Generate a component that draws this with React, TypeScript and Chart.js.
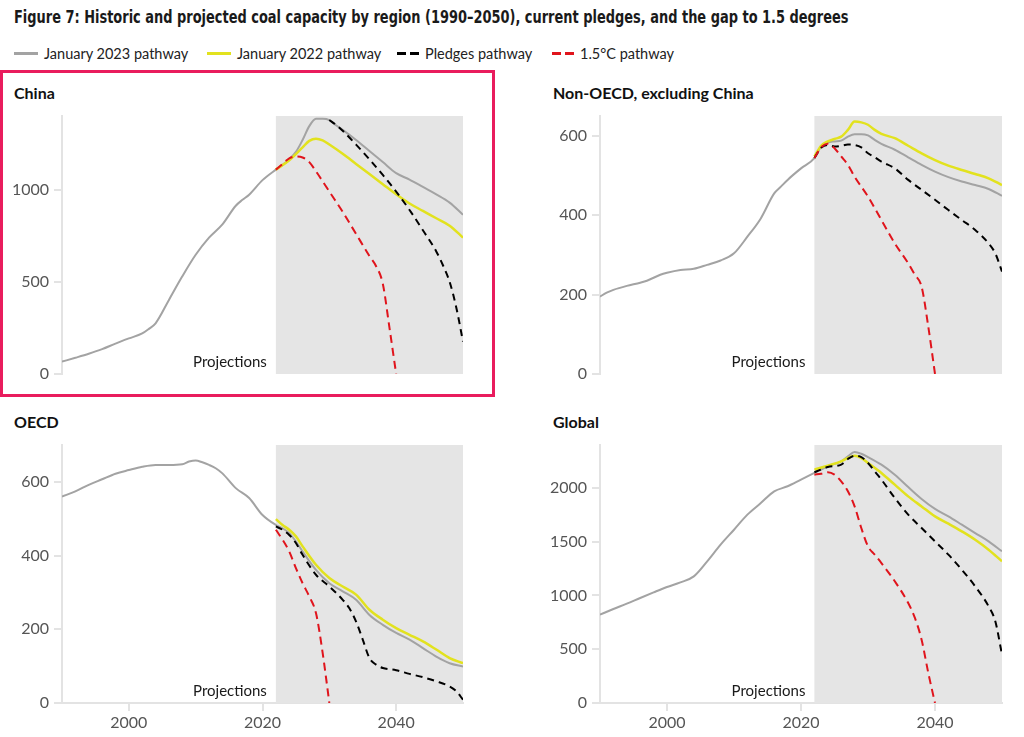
import React, { useEffect, useRef } from "react";
import { Chart, registerables } from "chart.js";

Chart.register(...registerables);

// ---------- text ----------
const TITLE =
  "Figure 7: Historic and projected coal capacity by region (1990–2050), current pledges, and the gap to 1.5 degrees";
const SERIES_NAMES = ["January 2023 pathway", "January 2022 pathway", "Pledges pathway", "1.5°C pathway"];
const PROJ_LABEL = "Projections";
const PROJ_START = 2022;
const X_MIN = 1990;
const X_MAX = 2050;
const X_TICKS = [2000, 2020, 2040];

// ---------- China ----------
const chinaY23 = [1990, 1992, 1994, 1996, 1998, 2000, 2002, 2003, 2004, 2006, 2008, 2010, 2012, 2014, 2016, 2017, 2018, 2020, 2022, 2023, 2024, 2025, 2026, 2027, 2028, 2029, 2030, 2031, 2032, 2034, 2036, 2038, 2040, 2042, 2044, 2046, 2048, 2050];
const chinaJan23 = [67, 88, 110, 135, 165, 193, 220, 245, 275, 402, 530, 647, 740, 812, 913, 945, 973, 1052, 1109, 1135, 1165, 1205, 1270, 1345, 1385, 1385, 1378, 1350, 1325, 1270, 1210, 1150, 1090, 1055, 1015, 975, 930, 864];
const chinaY22 = [2022, 2024, 2026, 2027, 2028, 2029, 2030, 2032, 2034, 2036, 2038, 2040, 2042, 2044, 2046, 2048, 2050];
const chinaJan22 = [1109, 1160, 1230, 1265, 1277, 1268, 1245, 1195, 1140, 1085, 1030, 975, 925, 885, 845, 805, 740];
const chinaYP = [2030, 2031, 2032, 2034, 2036, 2038, 2040, 2042, 2044, 2046, 2047, 2048, 2049, 2050];
const chinaPledges = [1378, 1352, 1320, 1245, 1165, 1080, 990, 890, 780, 665, 590, 500, 360, 176];
const chinaY15 = [2022, 2023, 2024, 2025, 2026, 2027, 2028, 2030, 2032, 2034, 2036, 2037, 2038, 2039, 2040];
const china15 = [1109, 1140, 1170, 1180, 1175, 1150, 1100, 990, 880, 760, 640, 585, 490, 250, 0];

// ---------- Non-OECD excluding China ----------
const nonY23 = [1990, 1991, 1992, 1994, 1996, 1997, 1999, 2000, 2002, 2004, 2006, 2008, 2010, 2012, 2014, 2016, 2017, 2018, 2020, 2022, 2023, 2024, 2025, 2026, 2027, 2028, 2029, 2030, 2031, 2032, 2034, 2036, 2038, 2040, 2042, 2044, 2046, 2048, 2050];
const nonJan23 = [195, 205, 212, 222, 230, 235, 250, 255, 262, 265, 275, 286, 304, 346, 392, 455, 472, 489, 518, 544, 573, 583, 586, 588, 598, 604, 604, 601, 590, 580, 565, 546, 527, 510, 496, 485, 476, 466, 449];
const nonY22 = [2022, 2023, 2024, 2025, 2026, 2027, 2028, 2029, 2030, 2031, 2032, 2034, 2036, 2038, 2040, 2042, 2044, 2046, 2048, 2050];
const nonJan22 = [548, 575, 586, 592, 598, 615, 636, 634, 628, 615, 605, 594, 575, 556, 539, 525, 514, 504, 493, 476];
const nonYP = [2022, 2023, 2024, 2025, 2026, 2027, 2028, 2029, 2030, 2031, 2032, 2034, 2036, 2038, 2040, 2042, 2044, 2046, 2048, 2049, 2050];
const nonPledges = [544, 570, 577, 573, 575, 578, 577, 571, 556, 546, 535, 518, 489, 464, 439, 413, 388, 363, 329, 304, 258];
const nonY15 = [2022, 2023, 2024, 2025, 2026, 2027, 2028, 2030, 2032, 2034, 2036, 2037, 2038, 2039, 2040];
const non15 = [544, 571, 580, 569, 548, 527, 497, 447, 388, 329, 279, 250, 220, 119, 0];

// ---------- OECD ----------
const oecdY23 = [1990, 1992, 1994, 1996, 1998, 2000, 2002, 2004, 2006, 2008, 2009, 2010, 2011, 2012, 2013, 2014, 2016, 2018, 2020, 2022, 2023, 2024, 2025, 2026, 2028, 2030, 2032, 2034, 2036, 2038, 2040, 2042, 2044, 2046, 2048, 2050];
const oecdJan23 = [560, 574, 592, 607, 622, 632, 641, 646, 646, 648, 655, 658, 653, 646, 637, 623, 583, 556, 510, 483, 474, 461, 438, 411, 361, 325, 303, 280, 239, 212, 190, 172, 149, 126, 108, 99];
const oecdY22 = [2022, 2023, 2024, 2025, 2026, 2028, 2030, 2032, 2034, 2036, 2038, 2040, 2042, 2044, 2046, 2048, 2050];
const oecdJan22 = [499, 483, 470, 452, 425, 375, 339, 316, 294, 253, 226, 203, 185, 167, 145, 122, 108];
const oecdYP = [2022, 2023, 2024, 2025, 2026, 2028, 2030, 2032, 2033, 2034, 2035, 2036, 2037, 2038, 2040, 2042, 2044, 2046, 2048, 2049, 2050];
const oecdPledges = [479, 470, 456, 434, 402, 348, 316, 280, 257, 221, 172, 122, 104, 95, 89, 79, 70, 59, 45, 32, 9];
const oecdY15 = [2022, 2023, 2024, 2025, 2026, 2027, 2028, 2029, 2030];
const oecd15 = [470, 443, 411, 366, 325, 289, 244, 136, 0];

// ---------- Global ----------
const globY23 = [1990, 1992, 1994, 1996, 1998, 2000, 2002, 2004, 2006, 2008, 2010, 2012, 2014, 2016, 2018, 2020, 2022, 2024, 2026, 2027, 2028, 2029, 2030, 2032, 2034, 2036, 2038, 2040, 2042, 2044, 2046, 2048, 2050];
const globJan23 = [822, 874, 924, 977, 1029, 1079, 1122, 1178, 1318, 1473, 1612, 1752, 1860, 1969, 2016, 2078, 2140, 2202, 2248, 2295, 2335, 2319, 2288, 2217, 2124, 2009, 1898, 1805, 1736, 1659, 1581, 1504, 1411];
const globY22 = [2022, 2024, 2026, 2027, 2028, 2029, 2030, 2032, 2034, 2036, 2038, 2040, 2042, 2044, 2046, 2048, 2050];
const globJan22 = [2171, 2208, 2248, 2279, 2300, 2279, 2233, 2140, 2031, 1922, 1829, 1736, 1668, 1597, 1519, 1426, 1318];
const globYP = [2022, 2024, 2026, 2027, 2028, 2029, 2030, 2031, 2032, 2034, 2036, 2038, 2040, 2042, 2044, 2046, 2048, 2049, 2050];
const globPledges = [2146, 2195, 2217, 2270, 2300, 2288, 2233, 2155, 2078, 1907, 1752, 1628, 1504, 1380, 1240, 1085, 899, 760, 450];
const globY15 = [2022, 2023, 2024, 2025, 2026, 2027, 2028, 2029, 2030, 2031, 2032, 2034, 2036, 2037, 2038, 2039, 2040];
const glob15 = [2124, 2133, 2146, 2124, 2062, 1969, 1829, 1628, 1457, 1380, 1302, 1132, 930, 791, 589, 279, 0];

// ---------- panel definitions ----------
const PANEL_NAMES = ["China", "Non-OECD, excluding China", "OECD", "Global"];
const Y_MAX = [1400, 650, 700, 2400];
const Y_TICKS = [[0, 500, 1000], [0, 200, 400, 600], [0, 200, 400, 600], [0, 500, 1000, 1500, 2000]];

const COLORS = {
  jan23: "#a3a3a3",
  jan22: "#e2e21e",
  pledges: "#000000",
  p15: "#e0141c",
  shade: "#e5e5e5",
  axis: "#e3e3e3",
  tick: "#555555",
  text: "#1a1a1a",
  border: "#e91c5d",
};
const FONT = "Lato, 'Noto Sans', sans-serif";

const zip = (xs: number[], ys: number[]) => xs.map((x, i) => ({ x, y: ys[i] }));

const PANEL_DATA = [
  [zip(chinaY23, chinaJan23), zip(chinaY22, chinaJan22), zip(chinaYP, chinaPledges), zip(chinaY15, china15)],
  [zip(nonY23, nonJan23), zip(nonY22, nonJan22), zip(nonYP, nonPledges), zip(nonY15, non15)],
  [zip(oecdY23, oecdJan23), zip(oecdY22, oecdJan22), zip(oecdYP, oecdPledges), zip(oecdY15, oecd15)],
  [zip(globY23, globJan23), zip(globY22, globJan22), zip(globYP, globPledges), zip(globY15, glob15)],
];

const shadePlugin = {
  id: "projShade",
  beforeDatasetsDraw(chart: any) {
    const { ctx, chartArea, scales } = chart;
    const x0 = scales.x.getPixelForValue(PROJ_START);
    ctx.save();
    ctx.fillStyle = COLORS.shade;
    ctx.fillRect(x0, chartArea.top, chartArea.right - x0, chartArea.bottom - chartArea.top);
    ctx.fillStyle = COLORS.text;
    ctx.font = "15px " + FONT;
    ctx.textAlign = "right";
    ctx.textBaseline = "middle";
    ctx.fillText(PROJ_LABEL, x0 - 9, chartArea.bottom - 12);
    ctx.restore();
  },
};

type PanelProps = { idx: number; left: number; top: number; width: number; height: number; yWidth: number; padTop: number; padRight: number; padBottom: number; showX: boolean };

function Panel(p: PanelProps) {
  const ref = useRef<HTMLCanvasElement | null>(null);
  useEffect(() => {
    if (!ref.current) return;
    const d = PANEL_DATA[p.idx];
    const mk = (i: number, color: string, width: number, dash: number[], order: number) => ({
      label: SERIES_NAMES[i],
      data: d[i],
      borderColor: color,
      backgroundColor: color,
      borderWidth: width,
      borderDash: dash,
      pointRadius: 0,
      fill: false,
      tension: 0.4,
      cubicInterpolationMode: "monotone" as const,
      order,
    });
    const chart = new Chart(ref.current, {
      type: "line",
      data: {
        datasets: [
          mk(0, COLORS.jan23, 2, [], 4),
          mk(1, COLORS.jan22, 2.5, [], 3),
          mk(2, COLORS.pledges, 2, [7, 5], 2),
          mk(3, COLORS.p15, 2, [8, 5], 1),
        ],
      },
      options: {
        animation: false,
        responsive: false,
        maintainAspectRatio: false,
        layout: { padding: { top: p.padTop, right: p.padRight, bottom: p.padBottom, left: 0 } },
        plugins: { legend: { display: false }, tooltip: { enabled: false }, title: { display: false } },
        scales: {
          x: {
            type: "linear",
            min: X_MIN,
            max: X_MAX,
            display: p.showX,
            grid: { drawOnChartArea: false, drawTicks: true, tickLength: 8, color: COLORS.axis, lineWidth: 2 },
            border: { display: true, color: COLORS.axis, width: 2 },
            ticks: {
              color: COLORS.tick,
              font: { family: FONT, size: 16 },
              padding: 2,
              maxRotation: 0,
              callback: (v: any) => String(v),
            },
            afterBuildTicks: (s: any) => {
              s.ticks = X_TICKS.map((v) => ({ value: v }));
            },
            afterFit: (s: any) => {
              s.height = p.showX ? 34 : 0;
            },
          },
          y: {
            type: "linear",
            min: 0,
            max: Y_MAX[p.idx],
            grid: { drawOnChartArea: false, drawTicks: true, tickLength: 8, color: COLORS.axis, lineWidth: 2 },
            border: { display: true, color: COLORS.axis, width: 2 },
            ticks: {
              color: COLORS.tick,
              font: { family: FONT, size: 16 },
              padding: 5,
              callback: (v: any) => String(v),
            },
            afterBuildTicks: (s: any) => {
              s.ticks = Y_TICKS[p.idx].map((v) => ({ value: v }));
            },
            afterFit: (s: any) => {
              s.width = p.yWidth;
            },
          },
        },
      },
      plugins: [shadePlugin],
    } as any);
    return () => chart.destroy();
  }, []);
  return (
    <canvas
      ref={ref}
      width={p.width}
      height={p.height}
      style={{ position: "absolute", left: p.left, top: p.top, width: p.width, height: p.height }}
    />
  );
}

function LegendItem({ x, color, dashed, label }: { x: number; color: string; dashed: boolean; label: string }) {
  return (
    <div style={{ position: "absolute", left: x, top: 44, height: 18, display: "flex", alignItems: "center", whiteSpace: "nowrap" }}>
      {dashed ? (
        <div style={{ display: "flex", width: 22, justifyContent: "space-between" }}>
          <div style={{ width: 9, height: 3, background: color }} />
          <div style={{ width: 9, height: 3, background: color }} />
        </div>
      ) : (
        <div style={{ width: 24, height: 3, background: color }} />
      )}
      <span style={{ marginLeft: 6, fontFamily: FONT, fontSize: 14.5, color: "#222" }}>{label}</span>
    </div>
  );
}

export default function App() {
  const panelTitle = (text: string, x: number, y: number) => (
    <div style={{ position: "absolute", left: x, top: y, fontFamily: FONT, fontWeight: 700, fontSize: 16, color: "#111", whiteSpace: "nowrap", lineHeight: "18px" }}>
      {text}
    </div>
  );
  return (
    <div style={{ position: "absolute", left: 0, top: 0, width: 1024, height: 737, background: "#fff", overflow: "hidden" }}>
      <div
        style={{
          position: "absolute",
          left: 14,
          top: 5,
          fontFamily: "'Liberation Sans Narrow', 'DejaVu Sans Condensed', 'DejaVu Sans', sans-serif",
          fontStretch: "condensed",
          fontWeight: 700,
          fontSize: 18,
          lineHeight: "24px",
          color: COLORS.text,
          whiteSpace: "nowrap",
          transform: "scaleX(0.8)",
          transformOrigin: "0 0",
        }}
      >
        {TITLE}
      </div>
      <LegendItem x={14} color={COLORS.jan23} dashed={false} label={SERIES_NAMES[0]} />
      <LegendItem x={207} color={COLORS.jan22} dashed={false} label={SERIES_NAMES[1]} />
      <LegendItem x={397} color={COLORS.pledges} dashed={true} label={SERIES_NAMES[2]} />
      <LegendItem x={552} color={COLORS.p15} dashed={true} label={SERIES_NAMES[3]} />

      {panelTitle(PANEL_NAMES[0], 14, 84)}
      {panelTitle(PANEL_NAMES[1], 553, 84)}
      {panelTitle(PANEL_NAMES[2], 14, 413)}
      {panelTitle(PANEL_NAMES[3], 553, 413)}

      <Panel idx={0} left={0} top={100} width={480} height={290} yWidth={62} padTop={16} padRight={17} padBottom={16} showX={false} />
      <Panel idx={1} left={520} top={100} width={504} height={290} yWidth={80} padTop={16} padRight={22} padBottom={16} showX={false} />
      <Panel idx={2} left={0} top={430} width={480} height={307} yWidth={62} padTop={15} padRight={17} padBottom={0} showX={true} />
      <Panel idx={3} left={520} top={430} width={504} height={307} yWidth={80} padTop={15} padRight={22} padBottom={0} showX={true} />

      <div
        style={{
          position: "absolute",
          left: 0,
          top: 70,
          width: 495,
          height: 327,
          boxSizing: "border-box",
          border: "3px solid " + COLORS.border,
          pointerEvents: "none",
        }}
      />
    </div>
  );
}
